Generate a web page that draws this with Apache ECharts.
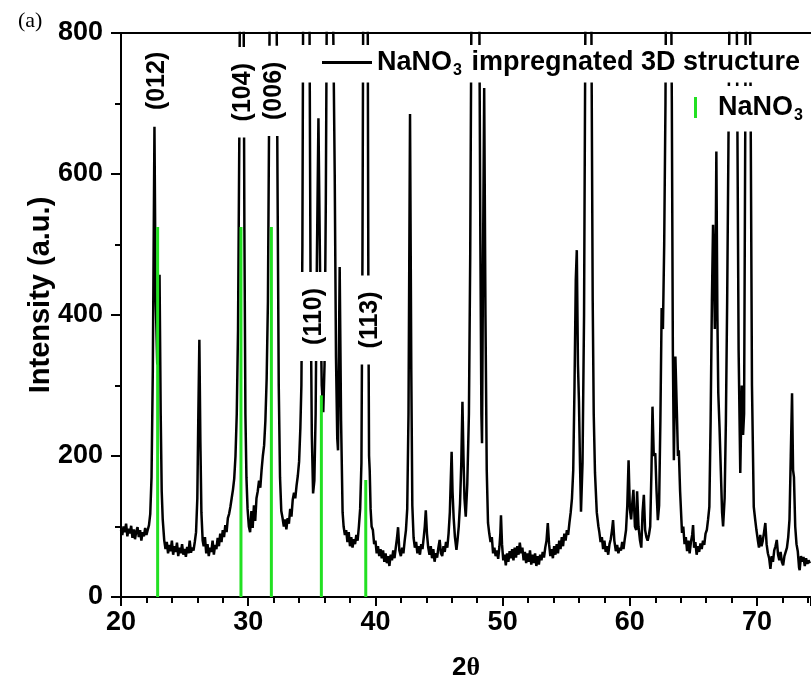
<!DOCTYPE html>
<html>
<head>
<meta charset="utf-8">
<script src="https://cdn.jsdelivr.net/npm/echarts@6/dist/echarts.min.js"></script>
<style>
html,body{margin:0;padding:0;background:#fff;}
#chart{width:811px;height:686px;}
</style>
</head>
<body>
<div id="chart"></div>
<script>
// XRD scan: [2theta, intensity]
var scan = [
[20.0,95],[20.1,88],[20.2,100],[20.3,92],[20.4,104],[20.5,86],[20.6,97],[20.7,90],[20.8,101],[20.9,84],[21.0,96],[21.1,82],[21.2,93],[21.3,99],[21.4,85],[21.5,95],[21.6,80],[21.7,92],[21.8,86],[21.9,98],[22.0,88],[22.1,95],[22.2,102],[22.3,118],[22.4,170],[22.5,320],[22.63,667],[22.72,430],[22.85,330],[23.03,457],[23.12,260],[23.2,150],[23.28,110],[23.4,80],
[23.5,68],[23.6,78],[23.7,62],[23.8,74],[23.9,65],[24.0,80],[24.1,60],[24.2,72],[24.3,64],[24.4,77],[24.5,58],[24.6,70],[24.7,62],[24.8,75],[24.9,60],[25.0,68],[25.1,57],[25.2,71],[25.3,62],[25.4,80],[25.5,63],[25.6,70],[25.7,66],[25.8,78],[25.9,92],[26.0,140],[26.08,260],[26.16,365],[26.24,220],[26.32,120],[26.42,80],
[26.5,72],[26.6,85],[26.7,62],[26.8,75],[26.9,58],[27.0,70],[27.1,64],[27.2,80],[27.3,60],[27.4,74],[27.5,68],[27.6,84],[27.7,72],[27.8,90],[27.9,78],[28.0,95],[28.1,85],[28.2,102],[28.3,92],[28.4,112],[28.5,118],[28.6,128],[28.7,140],[28.8,152],[28.9,168],[29.0,200],[29.1,260],[29.2,380],[29.3,650],[29.4,1100],[29.5,1500],[29.62,950],[29.7,520],[29.78,260],[29.86,170],[29.95,125],
[30.05,100],[30.15,92],[30.25,122],[30.35,98],[30.45,130],[30.55,108],[30.65,140],[30.75,150],[30.85,165],[30.95,155],[31.05,180],[31.15,200],[31.25,215],[31.35,250],[31.45,310],[31.55,420],[31.65,700],[31.75,1100],[31.9,1600],[32.05,1500],[32.2,950],[32.3,600],[32.4,300],[32.5,170],[32.6,122],[32.7,112],[32.8,100],[32.9,110],[33.0,96],[33.1,112],[33.2,104],[33.3,125],[33.4,114],[33.5,138],[33.6,148],[33.7,140],[33.8,158],[33.9,172],[34.0,192],[34.1,240],[34.18,300],[34.26,500],[34.32,850],[34.55,1700],[34.8,900],[34.9,450],[35.0,230],[35.1,147],[35.2,165],[35.3,260],[35.4,480],[35.52,679],[35.65,460],[35.78,300],[35.9,262],[36.0,330],[36.1,560],[36.18,850],[36.35,1500],[36.55,1000],[36.7,780],[36.8,600],[36.9,340],[37.0,225],[37.06,208],[37.19,468],[37.3,250],[37.42,120],[37.5,100],
[37.6,88],[37.7,95],[37.8,78],[37.9,92],[38.0,72],[38.1,85],[38.2,70],[38.3,82],[38.4,75],[38.5,88],[38.6,80],[38.7,100],[38.8,125],[38.9,190],[38.98,480],[39.05,900],[39.2,1400],[39.38,950],[39.45,400],[39.5,200],[39.55,180],[39.62,125],[39.7,100],[39.8,95],[39.9,75],[40.0,80],[40.1,62],[40.2,72],[40.3,58],[40.4,68],[40.5,55],[40.6,66],[40.7,50],[40.8,62],[40.9,48],[41.0,58],[41.1,44],[41.2,60],[41.3,52],[41.4,66],[41.5,55],[41.6,70],[41.7,84],[41.78,99],[41.88,66],[42.0,58],[42.1,70],[42.2,62],[42.3,80],[42.4,95],[42.5,125],[42.6,260],[42.72,685],[42.82,320],[42.9,130],[43.0,84],
[43.1,70],[43.2,78],[43.3,62],[43.4,72],[43.5,60],[43.6,75],[43.7,68],[43.8,85],[43.88,100],[43.96,123],[44.05,90],[44.15,70],[44.25,60],[44.35,72],[44.45,55],[44.55,68],[44.65,50],[44.75,62],[44.85,56],[44.95,70],[45.05,81],[45.15,62],[45.25,58],[45.35,72],[45.45,64],[45.55,78],[45.65,70],[45.75,90],[45.85,120],[45.93,170],[45.99,206],[46.06,150],[46.15,112],[46.25,85],[46.37,67],[46.45,80],[46.55,100],[46.65,132],[46.75,190],[46.84,277],[46.92,200],[47.0,140],[47.1,114],[47.22,160],[47.35,260],[47.45,480],[47.55,850],[47.7,1500],[47.95,1300],[48.15,900],[48.25,500],[48.33,260],[48.38,218],[48.46,480],[48.55,722],[48.65,400],[48.75,180],[48.85,105],
[48.95,90],[49.05,78],[49.15,85],[49.25,62],[49.35,70],[49.45,58],[49.55,66],[49.65,54],[49.75,72],[49.82,90],[49.87,116],[49.95,75],[50.05,52],[50.15,60],[50.25,45],[50.35,62],[50.45,50],[50.55,65],[50.65,55],[50.75,68],[50.85,52],[50.95,70],[51.05,56],[51.15,72],[51.25,60],[51.35,77],[51.45,62],[51.55,70],[51.65,52],[51.75,64],[51.85,48],[51.95,62],[52.05,50],[52.15,66],[52.25,46],[52.35,60],[52.45,48],[52.55,62],[52.65,44],[52.75,58],[52.85,46],[52.95,60],[53.05,52],[53.15,64],[53.25,56],[53.35,70],[53.45,80],[53.55,105],[53.65,75],[53.75,58],[53.85,68],[53.95,55],[54.05,72],[54.15,60],[54.25,75],[54.35,62],[54.45,80],[54.55,68],[54.65,85],[54.75,72],[54.85,90],[54.95,80],[55.05,95],[55.15,88],[55.25,105],[55.35,120],[55.45,140],[55.55,180],[55.65,300],[55.75,450],[55.83,492],[55.92,330],[56.0,277],[56.08,190],[56.16,121],[56.28,190],[56.4,400],[56.5,800],[56.75,1600],[56.98,800],[57.08,420],[57.16,260],[57.26,176],[57.4,120],[57.53,100],
[57.6,92],[57.7,78],[57.8,85],[57.9,68],[58.0,80],[58.1,64],[58.2,72],[58.3,60],[58.4,75],[58.5,82],[58.6,95],[58.68,109],[58.78,80],[58.9,65],[59.0,74],[59.1,62],[59.2,70],[59.3,66],[59.4,78],[59.5,68],[59.6,82],[59.7,95],[59.8,130],[59.9,194],[60.0,125],[60.1,110],[60.2,135],[60.28,152],[60.4,100],[60.5,95],[60.57,150],[60.68,100],[60.8,80],[60.9,70],[61.0,120],[61.1,145],[61.2,95],[61.3,85],[61.4,80],[61.5,88],[61.6,100],[61.7,180],[61.78,270],[61.88,200],[62.0,204],[62.1,150],[62.2,109],[62.3,130],[62.4,250],[62.5,410],[62.6,380],[62.7,500],[62.8,700],[62.9,1100],[63.05,1500],[63.2,1000],[63.3,700],[63.38,350],[63.46,194],[63.58,341],[63.7,260],[63.78,200],[63.85,208],[63.95,150],[64.1,91],
[64.2,100],[64.3,75],[64.4,85],[64.5,65],[64.6,80],[64.7,62],[64.8,78],[64.9,88],[64.97,102],[65.05,70],[65.15,78],[65.25,60],[65.35,72],[65.45,64],[65.55,76],[65.65,68],[65.75,80],[65.85,74],[65.95,90],[66.05,95],[66.15,110],[66.25,128],[66.35,250],[66.45,420],[66.54,528],[66.6,480],[66.68,380],[66.75,500],[66.8,632],[66.88,400],[66.95,290],[67.05,240],[67.15,180],[67.25,120],[67.33,100],[67.45,140],[67.55,250],[67.65,420],[67.75,640],[67.9,1000],[68.1,1400],[68.3,1100],[68.43,750],[68.55,350],[68.68,176],[68.8,300],[68.9,230],[68.98,260],[69.08,700],[69.2,1300],[69.35,1300],[69.48,750],[69.6,300],[69.74,128],[69.85,110],[69.95,95],
[70.05,82],[70.15,70],[70.25,88],[70.35,72],[70.45,80],[70.55,92],[70.65,105],[70.75,75],[70.85,62],[70.95,55],[71.05,40],[71.15,58],[71.25,50],[71.35,66],[71.45,72],[71.55,81],[71.65,60],[71.75,52],[71.85,64],[71.95,50],[72.05,45],[72.15,58],[72.25,60],[72.35,70],[72.45,85],[72.55,110],[72.65,200],[72.75,289],[72.83,180],[72.9,170],[73.0,100],[73.1,75],[73.2,65],[73.3,42],[73.35,38],[73.45,58],[73.55,50],[73.65,57],[73.75,44],[73.85,55],[73.95,47],[74.05,52],[74.15,48]
];

// NaNO3 reference lines
var refPos = [22.88, 29.43, 31.82, 35.75, 39.24];
var refInt = [525, 525, 525, 286, 166];

// hkl annotations
var hklText = ['(012)', '(104)', '(006)', '(110)', '(113)'];
var hklX = [22.8, 29.56, 32.0, 35.15, 39.55];
var hklY = [732, 716, 718, 398, 393];

var yTicks = [0, 200, 400, 600, 800];
var xTicks = [20, 30, 40, 50, 60, 70];

var seriesMain = 'NaNO3 impregnated 3D structure';
var seriesRef = 'NaNO3';

var chart = echarts.init(document.getElementById('chart'), null, {renderer: 'canvas'});
var sans = "'Liberation Sans', Arial, sans-serif";

var refData = refPos.map(function (x, i) { return [x, refInt[i]]; });
var hklData = hklX.map(function (x, i) { return {value: [x, hklY[i]], name: hklText[i]}; });

chart.setOption({
  animation: false,
  backgroundColor: '#fff',
  grid: {left: 121, right: 0, top: 33, bottom: 89, containLabel: false},
  graphic: [{
    type: 'text', left: 18, top: 10,
    style: {text: '(a)', font: "22px 'Liberation Serif', 'Times New Roman', serif", fill: '#000'}
  }],
  xAxis: [{
    type: 'value', min: 20, max: 74.24, interval: 10,
    axisLine: {lineStyle: {color: '#000', width: 2}},
    axisTick: {length: 9, lineStyle: {color: '#000', width: 2}},
    minorTick: {show: true, splitNumber: 5, length: 6, lineStyle: {color: '#000', width: 2}},
    splitLine: {show: false},
    axisLabel: {margin: 12, showMaxLabel: false, color: '#000', fontFamily: sans, fontWeight: 'bold', fontSize: 27,
      formatter: function (v) { return xTicks.indexOf(v) >= 0 ? String(v) : ''; }},
    name: '{a|2}{b|θ}', nameLocation: 'middle', nameGap: 58, nameMoveOverlap: false,
    nameTextStyle: {rich: {
      a: {fontFamily: sans, fontWeight: 'bold', fontSize: 26, color: '#000'},
      b: {fontFamily: "'Liberation Serif', serif", fontWeight: 'bold', fontSize: 26, color: '#000'}
    }}
  }, {
    type: 'value', position: 'top', min: 20, max: 74.24,
    axisLine: {show: true, onZero: false, lineStyle: {color: '#000', width: 2}},
    axisTick: {show: false}, axisLabel: {show: false}, splitLine: {show: false}
  }],
  yAxis: [{
    type: 'value', min: 0, max: 800, interval: 200,
    axisLine: {show: true, lineStyle: {color: '#000', width: 2}},
    axisTick: {show: true, length: 10, lineStyle: {color: '#000', width: 2}},
    minorTick: {show: true, splitNumber: 2, length: 6, lineStyle: {color: '#000', width: 2}},
    splitLine: {show: false},
    axisLabel: {margin: 18, color: '#000', fontFamily: sans, fontWeight: 'bold', fontSize: 27,
      formatter: function (v) { return yTicks.indexOf(v) >= 0 ? String(v) : ''; }},
    name: 'Intensity (a.u.)', nameLocation: 'middle', nameGap: 66, nameRotate: 90, nameMoveOverlap: false,
    nameTextStyle: {fontFamily: sans, fontWeight: 'bold', fontSize: 29, color: '#000', padding: [0, 0, 0, 40]}
  }],
  legend: [{
    data: [seriesMain], left: 300, top: 45, orient: 'vertical',
    backgroundColor: '#fff', padding: [4, 10, 4, 22],
    icon: 'rect', itemWidth: 50, itemHeight: 3, itemGap: 0,
    formatter: function () { return '{b|NaNO}{s|3}{b| impregnated 3D structure}'; },
    textStyle: {color: '#000', rich: {
      b: {fontFamily: sans, fontWeight: 'bold', fontSize: 27, color: '#000'},
      s: {fontFamily: sans, fontWeight: 'bold', fontSize: 16, color: '#000', padding: [16, 2, 0, 1]}
    }}
  }, {
    data: [seriesRef], left: 688, top: 86, orient: 'vertical',
    backgroundColor: '#fff', padding: [8, 10, 8, 6],
    icon: 'rect', itemWidth: 3, itemHeight: 21,
    formatter: function () { return '{p|}{b|NaNO}{s|3}'; },
    textStyle: {color: '#000', rich: {
      p: {width: 16},
      b: {fontFamily: sans, fontWeight: 'bold', fontSize: 27, color: '#000'},
      s: {fontFamily: sans, fontWeight: 'bold', fontSize: 16, color: '#000', padding: [16, 0, 0, 1]}
    }}
  }],
  series: [{
    name: seriesMain, type: 'line', data: scan, showSymbol: false, symbol: 'none',
    lineStyle: {color: '#000', width: 2.5}, itemStyle: {color: '#000'}, z: 2, clip: true
  }, {
    name: seriesRef, type: 'bar', data: refData, barWidth: 3,
    itemStyle: {color: '#22e022'}, z: 3
  }, {
    name: 'hkl', type: 'scatter', data: hklData, symbolSize: 0, z: 5,
    itemStyle: {opacity: 1},
    label: {show: true, position: 'inside', rotate: 90, formatter: '{b}',
      fontFamily: sans, fontWeight: 'bold', fontSize: 25, color: '#000',
      backgroundColor: '#fff', padding: [2, 16, 2, 16]},
    emphasis: {disabled: true}
  }]
});
</script>
</body>
</html>
